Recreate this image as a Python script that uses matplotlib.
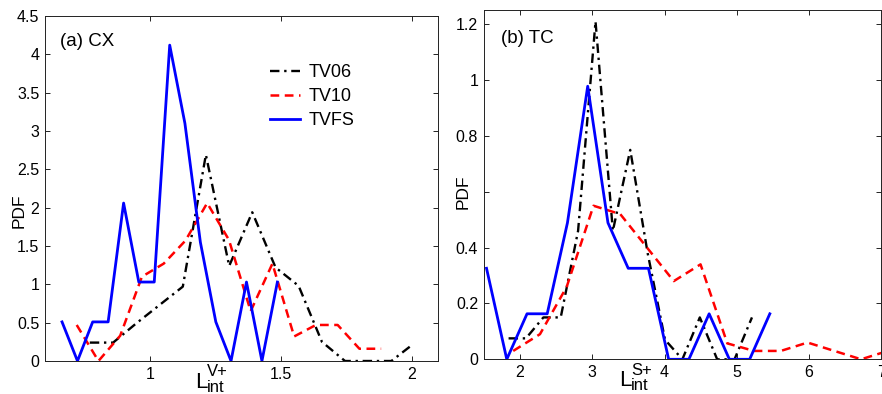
import matplotlib
matplotlib.use('Agg')
import matplotlib.pyplot as plt

plt.rcParams['font.family'] = ['Liberation Sans', 'DejaVu Sans']

# (a) CX  -- PDF of L_int^{V+}
cx_tv06_x = [0.771, 0.860, 0.948, 1.037, 1.126, 1.214, 1.303, 1.391, 1.480, 1.568, 1.657, 1.745, 1.834, 1.922, 2.005]
cx_tv06_y = [0.24, 0.24, 0.49, 0.73, 0.97, 2.69, 1.24, 1.94, 1.22, 0.98, 0.25, 0.0, 0.0, 0.0, 0.22]
cx_tv10_x = [0.721, 0.804, 0.887, 0.970, 1.053, 1.136, 1.219, 1.302, 1.385, 1.468, 1.551, 1.634, 1.717, 1.800, 1.883]
cx_tv10_y = [0.47, 0.0, 0.33, 1.10, 1.27, 1.57, 2.06, 1.58, 0.65, 1.27, 0.32, 0.47, 0.47, 0.16, 0.16]
cx_tvfs_x = [0.665, 0.724, 0.782, 0.841, 0.900, 0.958, 1.017, 1.076, 1.134, 1.193, 1.252, 1.310, 1.369, 1.428, 1.487]
cx_tvfs_y = [0.51, 0.0, 0.51, 0.51, 2.06, 1.03, 1.03, 4.12, 3.10, 1.55, 0.51, 0.0, 1.03, 0.0, 1.03]

# (b) TC  -- PDF of L_int^{S+}
tc_tv06_x = [1.844, 2.084, 2.325, 2.565, 2.805, 3.046, 3.286, 3.526, 3.767, 4.007, 4.247, 4.488, 4.728, 4.968, 5.209]
tc_tv06_y = [0.075, 0.075, 0.15, 0.15, 0.46, 1.21, 0.46, 0.75, 0.38, 0.07, 0.0, 0.15, 0.0, 0.0, 0.15]
tc_tv10_x = [1.908, 2.278, 2.648, 3.018, 3.388, 3.758, 4.128, 4.498, 4.868, 5.238, 5.608, 5.978, 6.348, 6.718, 7.088]
tc_tv10_y = [0.03, 0.09, 0.26, 0.55, 0.52, 0.40, 0.28, 0.34, 0.057, 0.03, 0.03, 0.06, 0.03, 0.0, 0.03]
tc_tvfs_x = [1.539, 1.819, 2.099, 2.378, 2.658, 2.938, 3.218, 3.498, 3.778, 4.057, 4.337, 4.617, 4.897, 5.177, 5.456]
tc_tvfs_y = [0.326, 0.0, 0.163, 0.163, 0.489, 0.978, 0.489, 0.326, 0.326, 0.0, 0.0, 0.163, 0.0, 0.0, 0.163]

labels = ['TV06', 'TV10', 'TVFS']

cx_xticks = [1, 1.5, 2]
cx_xticklabels = ['1', '1.5', '2']
cx_yticks = [0, 0.5, 1, 1.5, 2, 2.5, 3, 3.5, 4, 4.5]
cx_yticklabels = ['0', '0.5', '1', '1.5', '2', '2.5', '3', '3.5', '4', '4.5']
tc_xticks = [2, 3, 4, 5, 6, 7]
tc_xticklabels = ['2', '3', '4', '5', '6', '7']
tc_yticks = [0, 0.2, 0.4, 0.6, 0.8, 1.0, 1.2]
tc_yticklabels = ['0', '0.2', '0.4', '', '0.8', '1', '1.2']

dashdot = (0, (4, 2, 1, 2))
dashed = (0, (3.5, 2.2))

fig = plt.figure(figsize=(8.82, 3.94), dpi=100)
ax1 = fig.add_axes([45 / 882, 33 / 394, 393 / 882, 345 / 394])
ax2 = fig.add_axes([483.7 / 882, 34.7 / 394, 397.8 / 882, 349 / 394])


def style_axes(ax):
    ax.tick_params(direction='in', top=True, right=True, length=3.5, width=0.6,
                   labelsize=11.5, pad=4, colors='black')
    for s in ax.spines.values():
        s.set_linewidth(0.7)
        s.set_color('#222222')


def add_xlabel(ax, xfrac, sup):
    # L with stacked superscript / subscript, MATLAB style
    kw = dict(xy=(xfrac, 0), xycoords='axes fraction', textcoords='offset points',
              ha='left', va='baseline')
    ax.annotate('L', xytext=(0, -19.5), fontsize=16, **kw)
    ax.annotate(sup, xytext=(8.6, -11), fontsize=12, **kw)
    ax.annotate('int', xytext=(8.6, -22.3), fontsize=12, **kw)


# left panel
ax1.plot(cx_tv06_x, cx_tv06_y, color='black', lw=1.7, ls=dashdot, label=labels[0])
ax1.plot(cx_tv10_x, cx_tv10_y, color='red', lw=1.8, ls=dashed, label=labels[1])
ax1.plot(cx_tvfs_x, cx_tvfs_y, color='blue', lw=2.0, label=labels[2])
ax1.set_xlim(0.6, 2.1)
ax1.set_ylim(0, 4.5)
ax1.set_xticks(cx_xticks, cx_xticklabels)
ax1.set_yticks(cx_yticks, cx_yticklabels)
style_axes(ax1)
ax1.text(0.038, 0.926, '(a) CX', transform=ax1.transAxes, fontsize=13.5,
         ha='left', va='center')
ax1.text(-0.066, 0.435, 'PDF', transform=ax1.transAxes, rotation=90,
         fontsize=12.5, ha='center', va='center')
add_xlabel(ax1, 0.382, 'V+')
ax1.legend(loc='upper left', bbox_to_anchor=(0.572, 0.86), frameon=False,
           fontsize=13, handlelength=1.7, handletextpad=0.45,
           labelspacing=0.38, borderpad=0, borderaxespad=0)

# right panel
ax2.plot(tc_tv06_x, tc_tv06_y, color='black', lw=1.7, ls=dashdot)
ax2.plot(tc_tv10_x, tc_tv10_y, color='red', lw=1.8, ls=dashed)
ax2.plot(tc_tvfs_x, tc_tvfs_y, color='blue', lw=2.0)
ax2.set_xlim(1.5, 7)
ax2.set_ylim(0, 1.25)
ax2.set_xticks(tc_xticks, tc_xticklabels)
ax2.set_yticks(tc_yticks, tc_yticklabels)
style_axes(ax2)
ax2.text(0.0435, 0.919, '(b) TC', transform=ax2.transAxes, fontsize=13.5,
         ha='left', va='center')
ax2.text(-0.051, 0.479, 'PDF', transform=ax2.transAxes, rotation=90,
         fontsize=12.5, ha='center', va='center')
add_xlabel(ax2, 0.341, 'S+')

fig.savefig('out.png', dpi=100)
